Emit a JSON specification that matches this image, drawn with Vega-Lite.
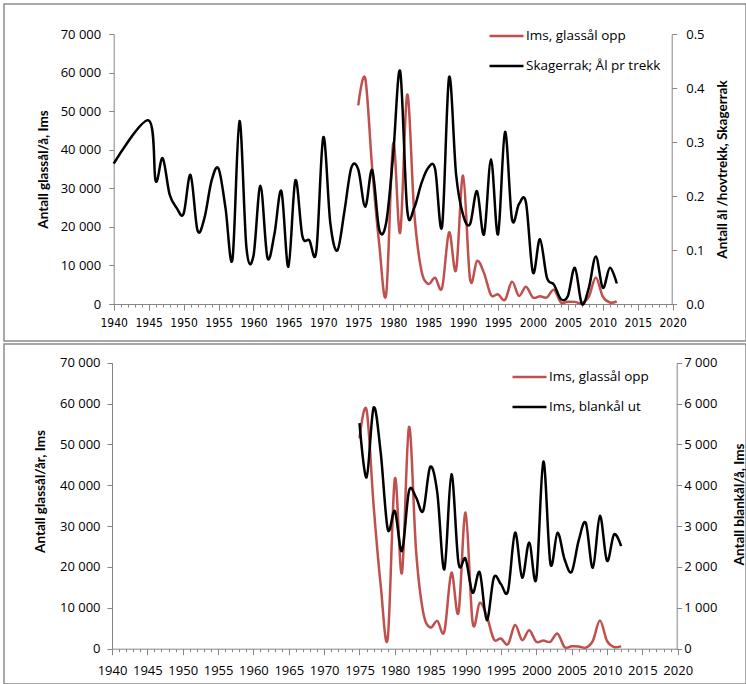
{
  "$schema": "https://vega.github.io/schema/vega-lite/v6.json",
  "padding": {"left": 3, "top": 3, "right": 0, "bottom": 0},
  "bounds": "flush",
  "spacing": 3,
  "datasets": {
    "glass": [
      {"year": 1975, "series": "Ims, glassål opp", "value": 51500},
      {"year": 1976, "series": "Ims, glassål opp", "value": 58500},
      {"year": 1977, "series": "Ims, glassål opp", "value": 35000},
      {"year": 1978, "series": "Ims, glassål opp", "value": 15500},
      {"year": 1979, "series": "Ims, glassål opp", "value": 2600},
      {"year": 1980, "series": "Ims, glassål opp", "value": 41600},
      {"year": 1981, "series": "Ims, glassål opp", "value": 18500},
      {"year": 1982, "series": "Ims, glassål opp", "value": 54300},
      {"year": 1983, "series": "Ims, glassål opp", "value": 24000},
      {"year": 1984, "series": "Ims, glassål opp", "value": 9000},
      {"year": 1985, "series": "Ims, glassål opp", "value": 5200},
      {"year": 1986, "series": "Ims, glassål opp", "value": 6800},
      {"year": 1987, "series": "Ims, glassål opp", "value": 4200},
      {"year": 1988, "series": "Ims, glassål opp", "value": 18600},
      {"year": 1989, "series": "Ims, glassål opp", "value": 8800},
      {"year": 1990, "series": "Ims, glassål opp", "value": 33300},
      {"year": 1991, "series": "Ims, glassål opp", "value": 6400},
      {"year": 1992, "series": "Ims, glassål opp", "value": 11200},
      {"year": 1993, "series": "Ims, glassål opp", "value": 8000},
      {"year": 1994, "series": "Ims, glassål opp", "value": 2300},
      {"year": 1995, "series": "Ims, glassål opp", "value": 2500},
      {"year": 1996, "series": "Ims, glassål opp", "value": 1100},
      {"year": 1997, "series": "Ims, glassål opp", "value": 5800},
      {"year": 1998, "series": "Ims, glassål opp", "value": 2100},
      {"year": 1999, "series": "Ims, glassål opp", "value": 4500},
      {"year": 2000, "series": "Ims, glassål opp", "value": 1700},
      {"year": 2001, "series": "Ims, glassål opp", "value": 2000},
      {"year": 2002, "series": "Ims, glassål opp", "value": 1700},
      {"year": 2003, "series": "Ims, glassål opp", "value": 3700},
      {"year": 2004, "series": "Ims, glassål opp", "value": 400},
      {"year": 2005, "series": "Ims, glassål opp", "value": 600},
      {"year": 2006, "series": "Ims, glassål opp", "value": 550},
      {"year": 2007, "series": "Ims, glassål opp", "value": 250},
      {"year": 2008, "series": "Ims, glassål opp", "value": 1900},
      {"year": 2009, "series": "Ims, glassål opp", "value": 6900},
      {"year": 2010, "series": "Ims, glassål opp", "value": 1900},
      {"year": 2011, "series": "Ims, glassål opp", "value": 400},
      {"year": 2012, "series": "Ims, glassål opp", "value": 650}
    ],
    "skag": [
      {"year": 1940, "series": "Skagerrak; Ål pr trekk", "value": 0.26},
      {"year": 1945, "series": "Skagerrak; Ål pr trekk", "value": 0.34},
      {"year": 1946, "series": "Skagerrak; Ål pr trekk", "value": 0.228},
      {"year": 1947, "series": "Skagerrak; Ål pr trekk", "value": 0.27},
      {"year": 1948, "series": "Skagerrak; Ål pr trekk", "value": 0.203},
      {"year": 1949, "series": "Skagerrak; Ål pr trekk", "value": 0.178},
      {"year": 1950, "series": "Skagerrak; Ål pr trekk", "value": 0.167},
      {"year": 1951, "series": "Skagerrak; Ål pr trekk", "value": 0.239},
      {"year": 1952, "series": "Skagerrak; Ål pr trekk", "value": 0.136},
      {"year": 1953, "series": "Skagerrak; Ål pr trekk", "value": 0.16},
      {"year": 1954, "series": "Skagerrak; Ål pr trekk", "value": 0.228},
      {"year": 1955, "series": "Skagerrak; Ål pr trekk", "value": 0.251},
      {"year": 1956, "series": "Skagerrak; Ål pr trekk", "value": 0.178},
      {"year": 1957, "series": "Skagerrak; Ål pr trekk", "value": 0.083},
      {"year": 1958, "series": "Skagerrak; Ål pr trekk", "value": 0.339},
      {"year": 1959, "series": "Skagerrak; Ål pr trekk", "value": 0.104},
      {"year": 1960, "series": "Skagerrak; Ål pr trekk", "value": 0.089},
      {"year": 1961, "series": "Skagerrak; Ål pr trekk", "value": 0.219},
      {"year": 1962, "series": "Skagerrak; Ål pr trekk", "value": 0.086},
      {"year": 1963, "series": "Skagerrak; Ål pr trekk", "value": 0.129},
      {"year": 1964, "series": "Skagerrak; Ål pr trekk", "value": 0.209},
      {"year": 1965, "series": "Skagerrak; Ål pr trekk", "value": 0.069},
      {"year": 1966, "series": "Skagerrak; Ål pr trekk", "value": 0.229},
      {"year": 1967, "series": "Skagerrak; Ål pr trekk", "value": 0.126},
      {"year": 1968, "series": "Skagerrak; Ål pr trekk", "value": 0.118},
      {"year": 1969, "series": "Skagerrak; Ål pr trekk", "value": 0.098},
      {"year": 1970, "series": "Skagerrak; Ål pr trekk", "value": 0.309},
      {"year": 1971, "series": "Skagerrak; Ål pr trekk", "value": 0.15},
      {"year": 1972, "series": "Skagerrak; Ål pr trekk", "value": 0.099},
      {"year": 1973, "series": "Skagerrak; Ål pr trekk", "value": 0.17},
      {"year": 1974, "series": "Skagerrak; Ål pr trekk", "value": 0.252},
      {"year": 1975, "series": "Skagerrak; Ål pr trekk", "value": 0.249},
      {"year": 1976, "series": "Skagerrak; Ål pr trekk", "value": 0.18},
      {"year": 1977, "series": "Skagerrak; Ål pr trekk", "value": 0.248},
      {"year": 1978, "series": "Skagerrak; Ål pr trekk", "value": 0.138},
      {"year": 1979, "series": "Skagerrak; Ål pr trekk", "value": 0.151},
      {"year": 1980, "series": "Skagerrak; Ål pr trekk", "value": 0.277},
      {"year": 1981, "series": "Skagerrak; Ål pr trekk", "value": 0.431},
      {"year": 1982, "series": "Skagerrak; Ål pr trekk", "value": 0.175},
      {"year": 1983, "series": "Skagerrak; Ål pr trekk", "value": 0.178},
      {"year": 1984, "series": "Skagerrak; Ål pr trekk", "value": 0.222},
      {"year": 1985, "series": "Skagerrak; Ål pr trekk", "value": 0.252},
      {"year": 1986, "series": "Skagerrak; Ål pr trekk", "value": 0.25},
      {"year": 1987, "series": "Skagerrak; Ål pr trekk", "value": 0.144},
      {"year": 1988, "series": "Skagerrak; Ål pr trekk", "value": 0.42},
      {"year": 1989, "series": "Skagerrak; Ål pr trekk", "value": 0.24},
      {"year": 1990, "series": "Skagerrak; Ål pr trekk", "value": 0.165},
      {"year": 1991, "series": "Skagerrak; Ål pr trekk", "value": 0.148},
      {"year": 1992, "series": "Skagerrak; Ål pr trekk", "value": 0.209},
      {"year": 1993, "series": "Skagerrak; Ål pr trekk", "value": 0.129},
      {"year": 1994, "series": "Skagerrak; Ål pr trekk", "value": 0.268},
      {"year": 1995, "series": "Skagerrak; Ål pr trekk", "value": 0.129},
      {"year": 1996, "series": "Skagerrak; Ål pr trekk", "value": 0.319},
      {"year": 1997, "series": "Skagerrak; Ål pr trekk", "value": 0.157},
      {"year": 1998, "series": "Skagerrak; Ål pr trekk", "value": 0.185},
      {"year": 1999, "series": "Skagerrak; Ål pr trekk", "value": 0.188},
      {"year": 2000, "series": "Skagerrak; Ål pr trekk", "value": 0.058},
      {"year": 2001, "series": "Skagerrak; Ål pr trekk", "value": 0.12},
      {"year": 2002, "series": "Skagerrak; Ål pr trekk", "value": 0.049},
      {"year": 2003, "series": "Skagerrak; Ål pr trekk", "value": 0.036},
      {"year": 2004, "series": "Skagerrak; Ål pr trekk", "value": 0.009},
      {"year": 2005, "series": "Skagerrak; Ål pr trekk", "value": 0.015},
      {"year": 2006, "series": "Skagerrak; Ål pr trekk", "value": 0.067},
      {"year": 2007, "series": "Skagerrak; Ål pr trekk", "value": 0.0},
      {"year": 2008, "series": "Skagerrak; Ål pr trekk", "value": 0.03},
      {"year": 2009, "series": "Skagerrak; Ål pr trekk", "value": 0.088},
      {"year": 2010, "series": "Skagerrak; Ål pr trekk", "value": 0.03},
      {"year": 2011, "series": "Skagerrak; Ål pr trekk", "value": 0.067},
      {"year": 2012, "series": "Skagerrak; Ål pr trekk", "value": 0.038}
    ],
    "blank": [
      {"year": 1975, "series": "Ims, blankål ut", "value": 5520},
      {"year": 1976, "series": "Ims, blankål ut", "value": 4190},
      {"year": 1977, "series": "Ims, blankål ut", "value": 5900},
      {"year": 1978, "series": "Ims, blankål ut", "value": 4800},
      {"year": 1979, "series": "Ims, blankål ut", "value": 2920},
      {"year": 1980, "series": "Ims, blankål ut", "value": 3370},
      {"year": 1981, "series": "Ims, blankål ut", "value": 2390},
      {"year": 1982, "series": "Ims, blankål ut", "value": 3860},
      {"year": 1983, "series": "Ims, blankål ut", "value": 3700},
      {"year": 1984, "series": "Ims, blankål ut", "value": 3370},
      {"year": 1985, "series": "Ims, blankål ut", "value": 4450},
      {"year": 1986, "series": "Ims, blankål ut", "value": 3820},
      {"year": 1987, "series": "Ims, blankål ut", "value": 1940},
      {"year": 1988, "series": "Ims, blankål ut", "value": 4270},
      {"year": 1989, "series": "Ims, blankål ut", "value": 2100},
      {"year": 1990, "series": "Ims, blankål ut", "value": 2200},
      {"year": 1991, "series": "Ims, blankål ut", "value": 1370},
      {"year": 1992, "series": "Ims, blankål ut", "value": 1870},
      {"year": 1993, "series": "Ims, blankål ut", "value": 700},
      {"year": 1994, "series": "Ims, blankål ut", "value": 1740},
      {"year": 1995, "series": "Ims, blankål ut", "value": 1580},
      {"year": 1996, "series": "Ims, blankål ut", "value": 1410},
      {"year": 1997, "series": "Ims, blankål ut", "value": 2840},
      {"year": 1998, "series": "Ims, blankål ut", "value": 1740},
      {"year": 1999, "series": "Ims, blankål ut", "value": 2600},
      {"year": 2000, "series": "Ims, blankål ut", "value": 1710},
      {"year": 2001, "series": "Ims, blankål ut", "value": 4580},
      {"year": 2002, "series": "Ims, blankål ut", "value": 2080},
      {"year": 2003, "series": "Ims, blankål ut", "value": 2840},
      {"year": 2004, "series": "Ims, blankål ut", "value": 2190},
      {"year": 2005, "series": "Ims, blankål ut", "value": 1880},
      {"year": 2006, "series": "Ims, blankål ut", "value": 2650},
      {"year": 2007, "series": "Ims, blankål ut", "value": 3080},
      {"year": 2008, "series": "Ims, blankål ut", "value": 1980},
      {"year": 2009, "series": "Ims, blankål ut", "value": 3250},
      {"year": 2010, "series": "Ims, blankål ut", "value": 2150},
      {"year": 2011, "series": "Ims, blankål ut", "value": 2800},
      {"year": 2012, "series": "Ims, blankål ut", "value": 2510}
    ]
  },
  "vconcat": [
    {
      "width": 742,
      "height": 337,
      "layer": [
        {
          "data": {"name": "glass"},
          "mark": {"type": "line", "interpolate": "cardinal", "strokeWidth": 2.5},
          "encoding": {
            "x": {
              "field": "year", "type": "quantitative",
              "scale": {"domain": [1940, 2020], "range": [109.7, 668.7], "nice": false, "zero": false},
              "axis": {"orient": "bottom", "offset": -37, "title": null, "values": [1940, 1945, 1950, 1955, 1960, 1965, 1970, 1975, 1980, 1985, 1990, 1995, 2000, 2005, 2010, 2015, 2020], "format": "d", "tickSize": 6, "labelPadding": 7, "labelFont": "DejaVu Sans Condensed", "labelFontSize": 12, "labelFlush": false, "labelOverlap": false}
            },
            "y": {
              "field": "value", "type": "quantitative",
              "scale": {"domain": [0, 70000], "range": [300, 30], "nice": false, "zero": false},
              "axis": {"orient": "left", "offset": -109.7, "values": [0, 10000, 20000, 30000, 40000, 50000, 60000, 70000], "labelExpr": "replace(format(datum.value, ','), ',', ' ')", "tickSize": 5, "labelPadding": 8, "title": "Antall glassål/å, Ims", "titleX": -70.7, "titleY": 165, "titleAngle": 270, "titleAlign": "center", "titleBaseline": "middle"}
            },
            "color": {
              "field": "series", "type": "nominal",
              "scale": {"domain": ["Ims, glassål opp", "Skagerrak; Ål pr trekk"], "range": ["#C0504D", "#000000"]},
              "legend": {"orient": "none", "legendX": 484, "legendY": 22, "title": null, "symbolType": "stroke", "symbolSize": 1156, "symbolStrokeWidth": 2.5, "labelFont": "Open Sans", "labelFontSize": 13.5, "labelColor": "#000000", "labelOffset": 1, "clipHeight": 20, "rowPadding": 10, "padding": 0}
            }
          }
        },
        {
          "data": {"name": "skag"},
          "mark": {"type": "line", "interpolate": "cardinal", "strokeWidth": 2.5},
          "encoding": {
            "x": {
              "field": "year", "type": "quantitative",
              "scale": {"domain": [1940, 2020], "range": [109.7, 668.7], "nice": false, "zero": false},
              "axis": {"orient": "bottom", "offset": -37, "title": null, "tickCount": 80, "labels": false, "domain": false, "tickSize": 3}
            },
            "y": {
              "field": "value", "type": "quantitative",
              "scale": {"domain": [0, 0.5], "range": [300, 30], "nice": false, "zero": false},
              "axis": {"orient": "right", "offset": -74.3, "values": [0, 0.1, 0.2, 0.3, 0.4, 0.5], "format": ".1f", "tickSize": 5, "labelPadding": 9, "title": "Antall ål /hovtrekk, Skagerrak", "titleX": 50.3, "titleY": 165, "titleAngle": 270, "titleAlign": "center", "titleBaseline": "middle"}
            },
            "color": {
              "field": "series", "type": "nominal",
              "scale": {"domain": ["Ims, glassål opp", "Skagerrak; Ål pr trekk"], "range": ["#C0504D", "#000000"]}
            }
          }
        }
      ],
      "resolve": {"scale": {"y": "independent"}, "axis": {"x": "independent", "y": "independent"}}
    },
    {
      "width": 742,
      "height": 340,
      "layer": [
        {
          "data": {"name": "glass"},
          "mark": {"type": "line", "interpolate": "cardinal", "strokeWidth": 2.5},
          "encoding": {
            "x": {
              "field": "year", "type": "quantitative",
              "scale": {"domain": [1940, 2020], "range": [108, 673.7], "nice": false, "zero": false},
              "axis": {"orient": "bottom", "offset": -35.3, "title": null, "values": [1940, 1945, 1950, 1955, 1960, 1965, 1970, 1975, 1980, 1985, 1990, 1995, 2000, 2005, 2010, 2015, 2020], "format": "d", "tickSize": 6, "labelPadding": 10, "labelFontSize": 13, "labelFlush": false, "labelOverlap": false}
            },
            "y": {
              "field": "value", "type": "quantitative",
              "scale": {"domain": [0, 70000], "range": [304.7, 18.7], "nice": false, "zero": false},
              "axis": {"orient": "left", "offset": -108, "values": [0, 10000, 20000, 30000, 40000, 50000, 60000, 70000], "labelExpr": "replace(format(datum.value, ','), ',', ' ')", "tickSize": 5, "labelPadding": 7, "title": "Antall glassål/år, Ims", "titleX": -72, "titleY": 147, "titleAngle": 270, "titleAlign": "center", "titleBaseline": "middle"}
            },
            "color": {
              "field": "series", "type": "nominal",
              "scale": {"domain": ["Ims, glassål opp", "Ims, blankål ut"], "range": ["#C0504D", "#000000"]},
              "legend": {"orient": "none", "legendX": 507, "legendY": 23, "title": null, "symbolType": "stroke", "symbolSize": 1156, "symbolStrokeWidth": 2.5, "labelFont": "Open Sans", "labelFontSize": 13.5, "labelColor": "#000000", "labelOffset": 1, "clipHeight": 20, "rowPadding": 10, "padding": 0}
            }
          }
        },
        {
          "data": {"name": "blank"},
          "mark": {"type": "line", "interpolate": "cardinal", "strokeWidth": 2.5},
          "encoding": {
            "x": {
              "field": "year", "type": "quantitative",
              "scale": {"domain": [1940, 2020], "range": [108, 673.7], "nice": false, "zero": false},
              "axis": {"orient": "bottom", "offset": -35.3, "title": null, "tickCount": 80, "labels": false, "domain": false, "tickSize": 3}
            },
            "y": {
              "field": "value", "type": "quantitative",
              "scale": {"domain": [0, 7000], "range": [304.7, 18.7], "nice": false, "zero": false},
              "axis": {"orient": "right", "offset": -69.3, "values": [0, 1000, 2000, 3000, 4000, 5000, 6000, 7000], "labelExpr": "replace(format(datum.value, ','), ',', ' ')", "tickSize": 5, "labelPadding": 2, "title": "Antall blankål/å, Ims", "titleX": 62.5, "titleY": 160, "titleAngle": 270, "titleAlign": "center", "titleBaseline": "middle"}
            },
            "color": {
              "field": "series", "type": "nominal",
              "scale": {"domain": ["Ims, glassål opp", "Ims, blankål ut"], "range": ["#C0504D", "#000000"]}
            }
          }
        }
      ],
      "resolve": {"scale": {"y": "independent"}, "axis": {"x": "independent", "y": "independent"}}
    }
  ],
  "resolve": {"scale": {"color": "independent", "x": "independent", "y": "independent"}, "legend": {"color": "independent"}},
  "config": {
    "view": {"stroke": "#8c8c8c", "strokeWidth": 1.5},
    "axis": {"grid": false, "labelFont": "Open Sans", "labelFontSize": 13, "labelColor": "#000000", "titleFont": "Lato", "titleFontSize": 13.5, "titleFontWeight": "bold", "titleColor": "#000000", "domainColor": "#868686", "tickColor": "#868686", "domainWidth": 1, "tickWidth": 1}
  }
}
